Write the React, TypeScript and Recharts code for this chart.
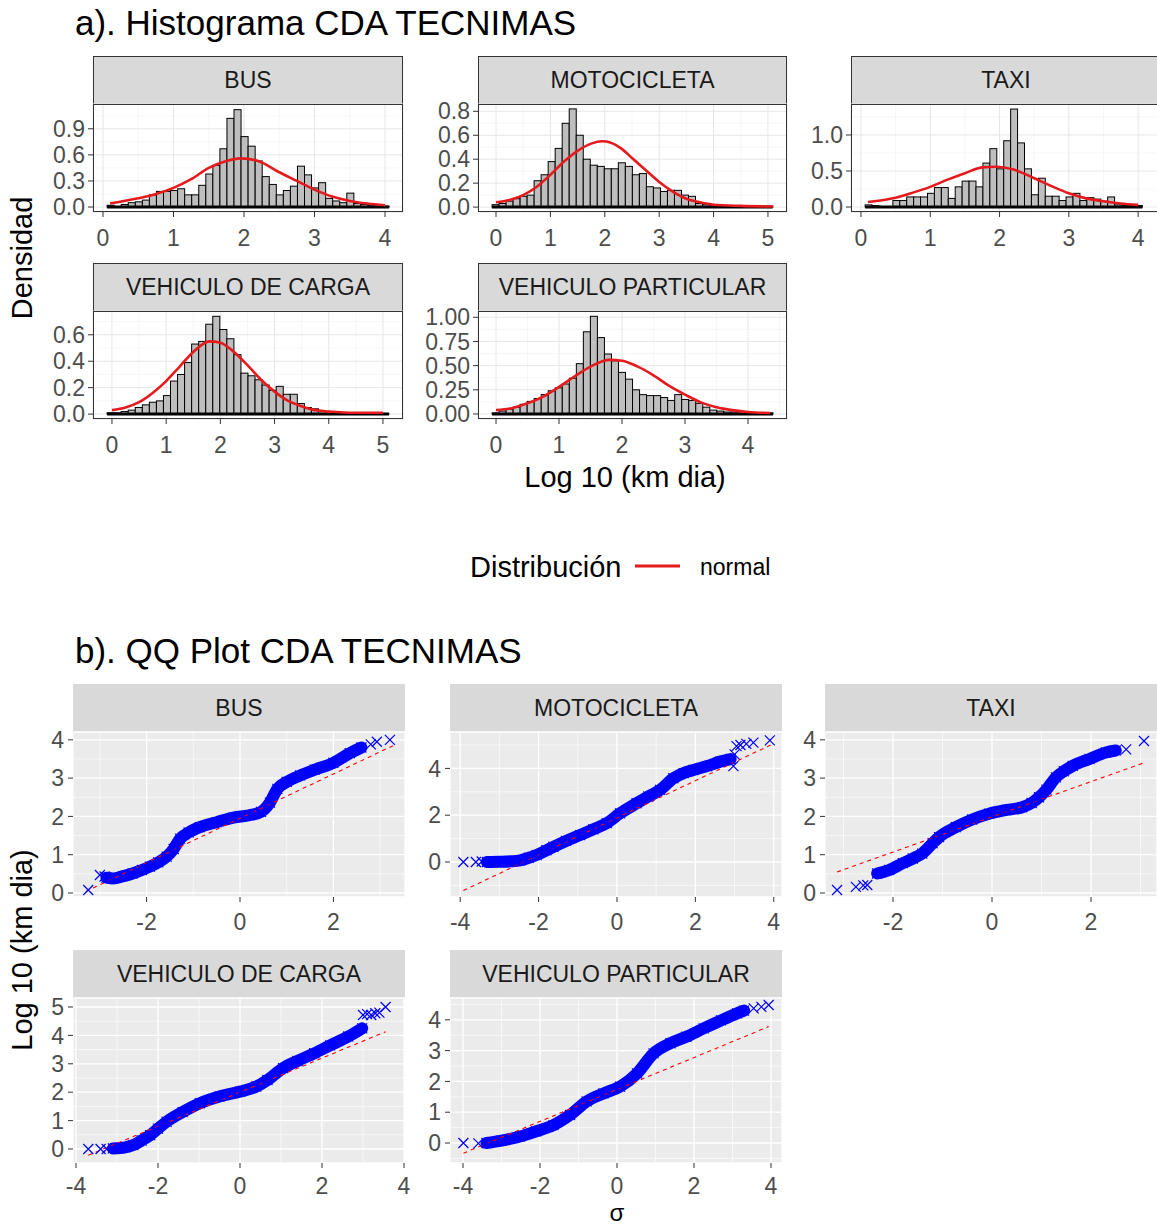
import React from 'react';
import { ComposedChart, Bar, Line, Scatter, XAxis, YAxis, CartesianGrid, ReferenceLine } from 'recharts';

const FONT = '"Liberation Sans", Arial, Helvetica, sans-serif';

// ---------------- Histogram data (densities per bin) ----------------
const busHist = [0.02, 0.0, 0.03, 0.05, 0.06, 0.08, 0.14, 0.18, 0.18, 0.19, 0.21, 0.14, 0.14, 0.25, 0.38, 0.48, 0.67, 1.02, 1.12, 0.81, 0.7, 0.53, 0.35, 0.26, 0.14, 0.19, 0.24, 0.47, 0.37, 0.22, 0.28, 0.1, 0.07, 0.05, 0.16, 0.04, 0.03, 0.02, 0.02, 0.01];
const motoHist = [0.02, 0.03, 0.05, 0.07, 0.09, 0.1, 0.22, 0.27, 0.38, 0.49, 0.7, 0.82, 0.6, 0.4, 0.35, 0.34, 0.32, 0.32, 0.37, 0.34, 0.27, 0.28, 0.17, 0.16, 0.13, 0.14, 0.14, 0.1, 0.09, 0.03, 0.02, 0.01, 0.01, 0.01, 0.005, 0.005, 0.003, 0.003, 0.003, 0.003];
const taxiHist = [0.03, 0.02, 0.0, 0.0, 0.09, 0.09, 0.14, 0.14, 0.14, 0.19, 0.27, 0.27, 0.12, 0.28, 0.36, 0.36, 0.28, 0.61, 0.81, 0.53, 0.92, 1.36, 0.89, 0.53, 0.17, 0.4, 0.15, 0.15, 0.09, 0.14, 0.19, 0.09, 0.13, 0.11, 0.08, 0.14, 0.03, 0.02, 0.02, 0.02];
const cargaHist = [0.01, 0.01, 0.02, 0.03, 0.05, 0.07, 0.09, 0.1, 0.14, 0.25, 0.3, 0.39, 0.53, 0.55, 0.68, 0.74, 0.64, 0.57, 0.45, 0.31, 0.29, 0.26, 0.22, 0.18, 0.21, 0.15, 0.15, 0.08, 0.05, 0.04, 0.02, 0.02, 0.01, 0.005, 0.003, 0.002, 0.002, 0.003, 0.003, 0.003];
const vpHist = [0.01, 0.03, 0.05, 0.07, 0.1, 0.13, 0.16, 0.2, 0.24, 0.27, 0.31, 0.37, 0.52, 0.85, 1.01, 0.79, 0.62, 0.55, 0.43, 0.36, 0.25, 0.2, 0.19, 0.19, 0.17, 0.14, 0.2, 0.15, 0.14, 0.11, 0.07, 0.04, 0.03, 0.02, 0.02, 0.01, 0.01, 0.005, 0.01, 0.01];

// bin start / width (log10 km dia)
const busBins = { start: 0.058, width: 0.1 };
const motoBins = { start: -0.073, width: 0.129 };
const taxiBins = { start: 0.06, width: 0.1 };
const cargaBins = { start: -0.09, width: 0.13 };
const vpBins = { start: -0.063, width: 0.1115 };

// normal density curves
const busCurve = [{ x: 0.1, d: 0.04 }, { x: 0.5, d: 0.1 }, { x: 0.75, d: 0.15 }, { x: 1.0, d: 0.22 }, { x: 1.25, d: 0.32 }, { x: 1.5, d: 0.45 }, { x: 1.75, d: 0.53 }, { x: 1.95, d: 0.56 }, { x: 2.2, d: 0.53 }, { x: 2.5, d: 0.4 }, { x: 2.75, d: 0.3 }, { x: 3.0, d: 0.2 }, { x: 3.25, d: 0.12 }, { x: 3.5, d: 0.07 }, { x: 3.75, d: 0.04 }, { x: 4.0, d: 0.02 }];
const motoCurve = [{ x: 0.0, d: 0.04 }, { x: 0.25, d: 0.06 }, { x: 0.5, d: 0.1 }, { x: 0.75, d: 0.17 }, { x: 1.0, d: 0.27 }, { x: 1.25, d: 0.38 }, { x: 1.5, d: 0.47 }, { x: 1.75, d: 0.53 }, { x: 1.95, d: 0.55 }, { x: 2.1, d: 0.54 }, { x: 2.3, d: 0.49 }, { x: 2.5, d: 0.41 }, { x: 2.75, d: 0.31 }, { x: 3.0, d: 0.21 }, { x: 3.25, d: 0.13 }, { x: 3.5, d: 0.07 }, { x: 3.75, d: 0.04 }, { x: 4.0, d: 0.02 }, { x: 4.5, d: 0.01 }, { x: 5.1, d: 0.005 }];
const taxiCurve = [{ x: 0.1, d: 0.07 }, { x: 0.5, d: 0.13 }, { x: 0.75, d: 0.2 }, { x: 1.0, d: 0.28 }, { x: 1.25, d: 0.38 }, { x: 1.5, d: 0.47 }, { x: 1.75, d: 0.55 }, { x: 1.95, d: 0.56 }, { x: 2.2, d: 0.52 }, { x: 2.5, d: 0.4 }, { x: 2.75, d: 0.29 }, { x: 3.0, d: 0.19 }, { x: 3.25, d: 0.12 }, { x: 3.5, d: 0.08 }, { x: 3.75, d: 0.05 }, { x: 4.0, d: 0.03 }];
const cargaCurve = [{ x: 0.0, d: 0.03 }, { x: 0.25, d: 0.05 }, { x: 0.5, d: 0.09 }, { x: 0.75, d: 0.16 }, { x: 1.0, d: 0.25 }, { x: 1.25, d: 0.36 }, { x: 1.5, d: 0.47 }, { x: 1.8, d: 0.55 }, { x: 2.0, d: 0.54 }, { x: 2.25, d: 0.47 }, { x: 2.5, d: 0.37 }, { x: 2.75, d: 0.26 }, { x: 3.0, d: 0.17 }, { x: 3.25, d: 0.1 }, { x: 3.5, d: 0.06 }, { x: 3.75, d: 0.03 }, { x: 4.0, d: 0.02 }, { x: 4.5, d: 0.01 }, { x: 5.0, d: 0.01 }];
const vpCurve = [{ x: 0.0, d: 0.04 }, { x: 0.25, d: 0.06 }, { x: 0.5, d: 0.11 }, { x: 0.75, d: 0.18 }, { x: 1.0, d: 0.28 }, { x: 1.25, d: 0.39 }, { x: 1.5, d: 0.49 }, { x: 1.8, d: 0.56 }, { x: 2.0, d: 0.55 }, { x: 2.25, d: 0.49 }, { x: 2.5, d: 0.4 }, { x: 2.75, d: 0.29 }, { x: 3.0, d: 0.2 }, { x: 3.25, d: 0.12 }, { x: 3.5, d: 0.07 }, { x: 3.75, d: 0.04 }, { x: 4.0, d: 0.02 }, { x: 4.35, d: 0.01 }];

// tick values
const ticks0to4 = [0, 1, 2, 3, 4];
const ticks0to5 = [0, 1, 2, 3, 4, 5];
const busYTicks = [0, 0.3, 0.6, 0.9];
const motoYTicks = [0, 0.2, 0.4, 0.6, 0.8];
const taxiYTicks = [0, 0.5, 1.0];
const cargaYTicks = [0, 0.2, 0.4, 0.6];
const vpYTicks = [0, 0.25, 0.5, 0.75, 1.0];

// ---------------- QQ data (theoretical, sample) ----------------
const busBand = [{ x: -2.86, y: 0.4 }, { x: -2.72, y: 0.38 }, { x: -2.5, y: 0.44 }, { x: -2.3, y: 0.51 }, { x: -2.1, y: 0.6 }, { x: -1.93, y: 0.69 }, { x: -1.75, y: 0.8 }, { x: -1.57, y: 0.95 }, { x: -1.42, y: 1.15 }, { x: -1.28, y: 1.42 }, { x: -1.1, y: 1.58 }, { x: -0.86, y: 1.72 }, { x: -0.5, y: 1.85 }, { x: -0.14, y: 1.97 }, { x: 0.2, y: 2.03 }, { x: 0.45, y: 2.12 }, { x: 0.64, y: 2.36 }, { x: 0.8, y: 2.72 }, { x: 1.0, y: 2.9 }, { x: 1.29, y: 3.07 }, { x: 1.6, y: 3.22 }, { x: 2.0, y: 3.4 }, { x: 2.35, y: 3.65 }, { x: 2.6, y: 3.8 }];
const busOut = [{ x: -3.25, y: 0.08 }, { x: -3.0, y: 0.47 }, { x: -2.9, y: 0.43 }, { x: 2.8, y: 3.88 }, { x: 2.93, y: 3.95 }, { x: 3.21, y: 4.0 }];
const busRef = [{ x: -3.3, y: 0.04 }, { x: 3.3, y: 3.86 }];

const motoBand = [{ x: -3.32, y: 0.0 }, { x: -3.0, y: 0.01 }, { x: -2.7, y: 0.03 }, { x: -2.47, y: 0.07 }, { x: -2.25, y: 0.18 }, { x: -2.05, y: 0.3 }, { x: -1.8, y: 0.5 }, { x: -1.62, y: 0.65 }, { x: -1.3, y: 0.9 }, { x: -0.94, y: 1.15 }, { x: -0.6, y: 1.4 }, { x: -0.26, y: 1.66 }, { x: 0.08, y: 2.08 }, { x: 0.5, y: 2.51 }, { x: 0.8, y: 2.8 }, { x: 1.1, y: 3.08 }, { x: 1.44, y: 3.58 }, { x: 1.7, y: 3.8 }, { x: 1.95, y: 3.93 }, { x: 2.3, y: 4.1 }, { x: 2.63, y: 4.29 }, { x: 2.9, y: 4.4 }];
const motoOut = [{ x: -3.92, y: 0.0 }, { x: -3.6, y: 0.0 }, { x: -3.45, y: 0.02 }, { x: 2.97, y: 4.1 }, { x: 3.0, y: 4.6 }, { x: 3.05, y: 4.95 }, { x: 3.15, y: 5.0 }, { x: 3.3, y: 5.05 }, { x: 3.48, y: 5.1 }, { x: 3.9, y: 5.2 }];
const motoRef = [{ x: -3.92, y: -1.22 }, { x: 3.92, y: 5.0 }];

const taxiBand = [{ x: -2.32, y: 0.51 }, { x: -2.08, y: 0.6 }, { x: -1.8, y: 0.78 }, { x: -1.6, y: 0.9 }, { x: -1.41, y: 1.03 }, { x: -1.2, y: 1.3 }, { x: -1.07, y: 1.46 }, { x: -0.73, y: 1.72 }, { x: -0.4, y: 1.92 }, { x: -0.06, y: 2.07 }, { x: 0.3, y: 2.17 }, { x: 0.61, y: 2.24 }, { x: 0.8, y: 2.35 }, { x: 0.95, y: 2.5 }, { x: 1.1, y: 2.7 }, { x: 1.29, y: 3.02 }, { x: 1.45, y: 3.18 }, { x: 1.63, y: 3.32 }, { x: 1.97, y: 3.5 }, { x: 2.3, y: 3.67 }, { x: 2.5, y: 3.72 }];
const taxiOut = [{ x: -3.13, y: 0.08 }, { x: -2.75, y: 0.16 }, { x: -2.6, y: 0.2 }, { x: -2.52, y: 0.21 }, { x: 2.71, y: 3.75 }, { x: 3.07, y: 3.97 }];
const taxiRef = [{ x: -3.13, y: 0.55 }, { x: 3.07, y: 3.4 }];

const cargaBand = [{ x: -3.1, y: 0.02 }, { x: -2.8, y: 0.06 }, { x: -2.6, y: 0.14 }, { x: -2.4, y: 0.3 }, { x: -2.19, y: 0.49 }, { x: -2.0, y: 0.72 }, { x: -1.79, y: 0.96 }, { x: -1.4, y: 1.3 }, { x: -0.98, y: 1.61 }, { x: -0.5, y: 1.85 }, { x: 0.0, y: 2.02 }, { x: 0.4, y: 2.2 }, { x: 0.67, y: 2.43 }, { x: 1.05, y: 2.85 }, { x: 1.4, y: 3.1 }, { x: 1.81, y: 3.37 }, { x: 2.2, y: 3.65 }, { x: 2.64, y: 3.96 }, { x: 2.98, y: 4.25 }];
const cargaOut = [{ x: -3.7, y: 0.0 }, { x: -3.4, y: 0.0 }, { x: -3.25, y: 0.0 }, { x: 3.0, y: 4.72 }, { x: 3.1, y: 4.75 }, { x: 3.2, y: 4.72 }, { x: 3.3, y: 4.78 }, { x: 3.4, y: 4.8 }, { x: 3.55, y: 5.0 }];
const cargaRef = [{ x: -3.7, y: -0.22 }, { x: 3.55, y: 4.13 }];

const vpBand = [{ x: -3.39, y: 0.0 }, { x: -3.0, y: 0.08 }, { x: -2.52, y: 0.21 }, { x: -2.1, y: 0.38 }, { x: -1.65, y: 0.58 }, { x: -1.22, y: 0.91 }, { x: -0.79, y: 1.35 }, { x: -0.35, y: 1.61 }, { x: 0.08, y: 1.83 }, { x: 0.52, y: 2.26 }, { x: 0.95, y: 2.91 }, { x: 1.39, y: 3.24 }, { x: 1.8, y: 3.45 }, { x: 2.25, y: 3.72 }, { x: 2.7, y: 3.98 }, { x: 3.12, y: 4.21 }, { x: 3.3, y: 4.3 }];
const vpOut = [{ x: -3.99, y: 0.0 }, { x: -3.6, y: -0.01 }, { x: 3.55, y: 4.37 }, { x: 3.75, y: 4.42 }, { x: 3.94, y: 4.48 }];
const vpRef = [{ x: -3.99, y: -0.33 }, { x: 3.94, y: 3.78 }];

const qqX2 = [-2, 0, 2];
const qqX4 = [-4, -2, 0, 2, 4];
const qqY04 = [0, 1, 2, 3, 4];
const qqY05 = [0, 1, 2, 3, 4, 5];
const qqYmoto = [0, 2, 4];

// ---------------- layout / config ----------------
const STRIP_H = 48;
const YW = 64;
const XH = 50;
const MT = 16; // chart top margin so top tick labels are not clipped
const MR = 16; // chart right margin so last tick labels are not clipped

const histPanels = [
  { name: 'BUS', vals: busHist, bins: busBins, curve: busCurve, xDom: [-0.142, 4.255], yDom: [-0.057, 1.185], xt: ticks0to4, yt: busYTicks, dec: 1, xm: [0.5, 1.5, 2.5, 3.5], ym: [0.15, 0.45, 0.75, 1.05], l: 93, st: 56, w: 310, h: 108 },
  { name: 'MOTOCICLETA', vals: motoHist, bins: motoBins, curve: motoCurve, xDom: [-0.331, 5.35], yDom: [-0.041, 0.861], xt: ticks0to5, yt: motoYTicks, dec: 1, xm: [0.5, 1.5, 2.5, 3.5, 4.5], ym: [0.1, 0.3, 0.5, 0.7], l: 478, st: 56, w: 309, h: 108 },
  { name: 'TAXI', vals: taxiHist, bins: taxiBins, curve: taxiCurve, xDom: [-0.144, 4.33], yDom: [-0.069, 1.43], xt: ticks0to4, yt: taxiYTicks, dec: 1, xm: [0.5, 1.5, 2.5, 3.5], ym: [0.25, 0.75, 1.25], l: 851, st: 56, w: 310, h: 108 },
  { name: 'VEHICULO DE CARGA', vals: cargaHist, bins: cargaBins, curve: cargaCurve, xDom: [-0.35, 5.37], yDom: [-0.037, 0.78], xt: ticks0to5, yt: cargaYTicks, dec: 1, xm: [0.5, 1.5, 2.5, 3.5, 4.5], ym: [0.1, 0.3, 0.5, 0.7], l: 93, st: 263, w: 310, h: 108 },
  { name: 'VEHICULO PARTICULAR', vals: vpHist, bins: vpBins, curve: vpCurve, xDom: [-0.286, 4.619], yDom: [-0.052, 1.065], xt: ticks0to4, yt: vpYTicks, dec: 2, xm: [0.5, 1.5, 2.5, 3.5, 4.5], ym: [0.125, 0.375, 0.625, 0.875], l: 478, st: 263, w: 309, h: 108 },
];

const qqPanels = [
  { name: 'BUS', band: busBand, out: busOut, ref: busRef, xDom: [-3.576, 3.533], yDom: [-0.104, 4.204], xt: qqX2, yt: qqY04, xm: [-3, -1, 1, 3], ym: [0.5, 1.5, 2.5, 3.5], l: 73, st: 684, w: 332, h: 165, tm: 12 },
  { name: 'MOTOCICLETA', band: motoBand, out: motoOut, ref: motoRef, xDom: [-4.26, 4.21], yDom: [-1.496, 5.556], xt: qqX4, yt: qqYmoto, xm: [-3, -1, 1, 3], ym: [-1, 1, 3, 5], l: 450, st: 684, w: 332, h: 165, tm: 12 },
  { name: 'TAXI', band: taxiBand, out: taxiOut, ref: taxiRef, xDom: [-3.374, 3.333], yDom: [-0.104, 4.204], xt: qqX2, yt: qqY04, xm: [-3, -1, 1, 3], ym: [0.5, 1.5, 2.5, 3.5], l: 825, st: 684, w: 332, h: 165, tm: 12 },
  { name: 'VEHICULO DE CARGA', band: cargaBand, out: cargaOut, ref: cargaRef, xDom: [-4.073, 4.024], yDom: [-0.493, 5.317], xt: qqX4, yt: qqY05, xm: [-3, -1, 1, 3], ym: [0.5, 1.5, 2.5, 3.5, 4.5], l: 73, st: 950, w: 332, h: 165, tm: 10 },
  { name: 'VEHICULO PARTICULAR', band: vpBand, out: vpOut, ref: vpRef, xDom: [-4.338, 4.286], yDom: [-0.649, 4.708], xt: qqX4, yt: qqY04, xm: [-3, -1, 1, 3], ym: [-0.5, 0.5, 1.5, 2.5, 3.5, 4.5], l: 450, st: 950, w: 332, h: 165, tm: 10 },
];

function scaleFn(axis: any) {
  const s = axis && axis.scale;
  if (!s) return null;
  return (v: number) => (typeof s === 'function' ? s(v) : s.map ? s.map(v) : NaN);
}

const tickStyle = { fontSize: 23, fill: '#4D4D4D', fontFamily: FONT };

const histBarShape = (bw: number) => (props: any) => {
  const { x, y, width, height } = props;
  if (x == null || height == null) return null;
  const cx = x + (width || 0) / 2;
  let top = y;
  let h = height;
  if (h < 0) { top = y + h; h = -h; }
  return <rect x={cx - bw / 2} y={top} width={bw} height={h} fill="#BEBEBE" stroke="#000" strokeWidth={1} />;
};

function HistPanel({ p }: { p: any }) {
  const data = p.vals.map((d: number, i: number) => ({ x: p.bins.start + p.bins.width * (i + 0.5), d }));
  const barPx = (p.w * p.bins.width) / (p.xDom[1] - p.xDom[0]);
  const top = p.st + STRIP_H;
  const first = data[0].x - p.bins.width / 2;
  const last = data[data.length - 1].x + p.bins.width / 2;
  return (
    <React.Fragment>
      <div style={{ position: 'absolute', left: p.l, top: p.st, width: p.w, height: STRIP_H + 1, boxSizing: 'border-box', background: '#D9D9D9', border: '1px solid #333', display: 'flex', alignItems: 'center', justifyContent: 'center', fontSize: 23, color: '#1A1A1A', lineHeight: 1 }}>{p.name}</div>
      <div style={{ position: 'absolute', left: p.l - YW, top: top - MT }}>
        <ComposedChart width={p.w + YW + MR} height={p.h + XH + MT} data={data} margin={{ top: MT, right: MR, bottom: 0, left: 0 }} barCategoryGap={0} barGap={0}>
          <CartesianGrid stroke="#F3F3F3" strokeWidth={0.7}
            verticalCoordinatesGenerator={(a: any) => { const f = scaleFn(a.xAxis); return f ? p.xm.map(f) : []; }}
            horizontalCoordinatesGenerator={(a: any) => { const f = scaleFn(a.yAxis); return f ? p.ym.map(f) : []; }} />
          <CartesianGrid stroke="#E6E6E6" strokeWidth={1} />
          <XAxis type="number" dataKey="x" domain={p.xDom} ticks={p.xt} allowDataOverflow interval={0} axisLine={false} tickLine={{ stroke: '#333' }} tickSize={5} tickMargin={13} height={XH} tick={tickStyle} />
          <YAxis type="number" domain={p.yDom} ticks={p.yt} allowDataOverflow interval={0} width={YW} axisLine={false} tickLine={{ stroke: '#333' }} tickSize={5} tickMargin={3} tick={tickStyle} tickFormatter={(v: number) => v.toFixed(p.dec)} />
          <Bar dataKey="d" fill="#BEBEBE" stroke="#000" strokeWidth={1} shape={histBarShape(barPx)} isAnimationActive={false} />
          <ReferenceLine segment={[{ x: first, y: 0 }, { x: last, y: 0 }]} stroke="#000" strokeWidth={3} />
          <Line data={p.curve} dataKey="d" type="monotone" stroke="#E41A1C" strokeWidth={2.6} dot={false} isAnimationActive={false} />
        </ComposedChart>
      </div>
      <div style={{ position: 'absolute', left: p.l, top, width: p.w, height: p.h, boxSizing: 'border-box', border: '1px solid #333', pointerEvents: 'none' }} />
    </React.Fragment>
  );
}

const xMark = (s: number) => (props: any) => {
  const cx = props.cx != null ? props.cx : props.x + (props.width || 0) / 2;
  const cy = props.cy != null ? props.cy : props.y + (props.height || 0) / 2;
  return <path d={`M${cx - s},${cy - s}L${cx + s},${cy + s}M${cx - s},${cy + s}L${cx + s},${cy - s}`} stroke="#0000FF" strokeWidth={1.2} fill="none" />;
};

function QQPanel({ p }: { p: any }) {
  const top = p.st + STRIP_H;
  return (
    <React.Fragment>
      <div style={{ position: 'absolute', left: p.l, top: p.st, width: p.w, height: STRIP_H, background: '#D9D9D9', display: 'flex', alignItems: 'center', justifyContent: 'center', fontSize: 23, color: '#1A1A1A', lineHeight: 1 }}>{p.name}</div>
      <div style={{ position: 'absolute', left: p.l - YW, top: top - MT }}>
        <ComposedChart width={p.w + YW + MR} height={p.h + XH + MT} margin={{ top: MT, right: MR, bottom: 0, left: 0 }}>
          <CartesianGrid fill="#EBEBEB" stroke="#FFFFFF" strokeWidth={0.6}
            verticalCoordinatesGenerator={(a: any) => { const f = scaleFn(a.xAxis); return f ? p.xm.map(f) : []; }}
            horizontalCoordinatesGenerator={(a: any) => { const f = scaleFn(a.yAxis); return f ? p.ym.map(f) : []; }} />
          <CartesianGrid stroke="#FFFFFF" strokeWidth={1.3} />
          <XAxis type="number" dataKey="x" domain={p.xDom} ticks={p.xt} allowDataOverflow interval={0} axisLine={false} tickLine={{ stroke: '#333' }} tickSize={5} tickMargin={p.tm} height={XH} tick={tickStyle} />
          <YAxis type="number" dataKey="y" domain={p.yDom} ticks={p.yt} allowDataOverflow interval={0} width={YW} axisLine={false} tickLine={{ stroke: '#333' }} tickSize={5} tickMargin={4} tick={tickStyle} />
          <Line data={p.band} dataKey="y" type="monotone" stroke="#0000FF" strokeWidth={12} strokeLinecap="round" dot={false} isAnimationActive={false} />
          <Scatter data={p.band} dataKey="y" shape={xMark(5)} isAnimationActive={false} />
          <Scatter data={p.out} dataKey="y" shape={xMark(5)} isAnimationActive={false} />
          <Line data={p.ref} dataKey="y" type="linear" stroke="#FF0000" strokeWidth={1.1} strokeDasharray="4 4" dot={false} isAnimationActive={false} />
        </ComposedChart>
      </div>
    </React.Fragment>
  );
}

function Annotations() {
  const base = (capCenter: number, size: number) => capCenter + 0.358 * size;
  return (
    <svg width={1157} height={1228} style={{ position: 'absolute', left: 0, top: 0, pointerEvents: 'none' }}>
      <text x={75} y={base(22.5, 35)} fontSize={35} fill="#000" fontFamily={FONT}>a). Histograma CDA TECNIMAS</text>
      <text x={75} y={base(650, 35)} fontSize={35} fill="#000" fontFamily={FONT}>b). QQ Plot CDA TECNIMAS</text>
      <text transform="translate(22,258) rotate(-90)" y={0.358 * 29} textAnchor="middle" fontSize={29} fill="#000" fontFamily={FONT}>Densidad</text>
      <text transform="translate(22,950) rotate(-90)" y={0.358 * 29} textAnchor="middle" fontSize={29} fill="#000" fontFamily={FONT}>Log 10 (km dia)</text>
      <text x={625} y={base(477, 29)} textAnchor="middle" fontSize={29} fill="#000" fontFamily={FONT}>Log 10 (km dia)</text>
      <text x={617} y={1221} textAnchor="middle" fontSize={24} fill="#000" fontFamily={FONT}>σ</text>
      <text x={470} y={base(567, 29)} fontSize={29} fill="#000" fontFamily={FONT}>Distribución</text>
      <line x1={635} x2={680} y1={566} y2={566} stroke="#E41A1C" strokeWidth={3} />
      <text x={700} y={base(567, 23)} fontSize={23} fill="#000" fontFamily={FONT}>normal</text>
    </svg>
  );
}

export default function App() {
  return (
    <div style={{ position: 'absolute', left: 0, top: 0, width: 1157, height: 1228, overflow: 'hidden', background: '#FFFFFF', fontFamily: FONT }}>
      <Annotations />
      {histPanels.map((p) => <HistPanel key={'h' + p.name} p={p} />)}
      {qqPanels.map((p) => <QQPanel key={'q' + p.name} p={p} />)}
    </div>
  );
}
